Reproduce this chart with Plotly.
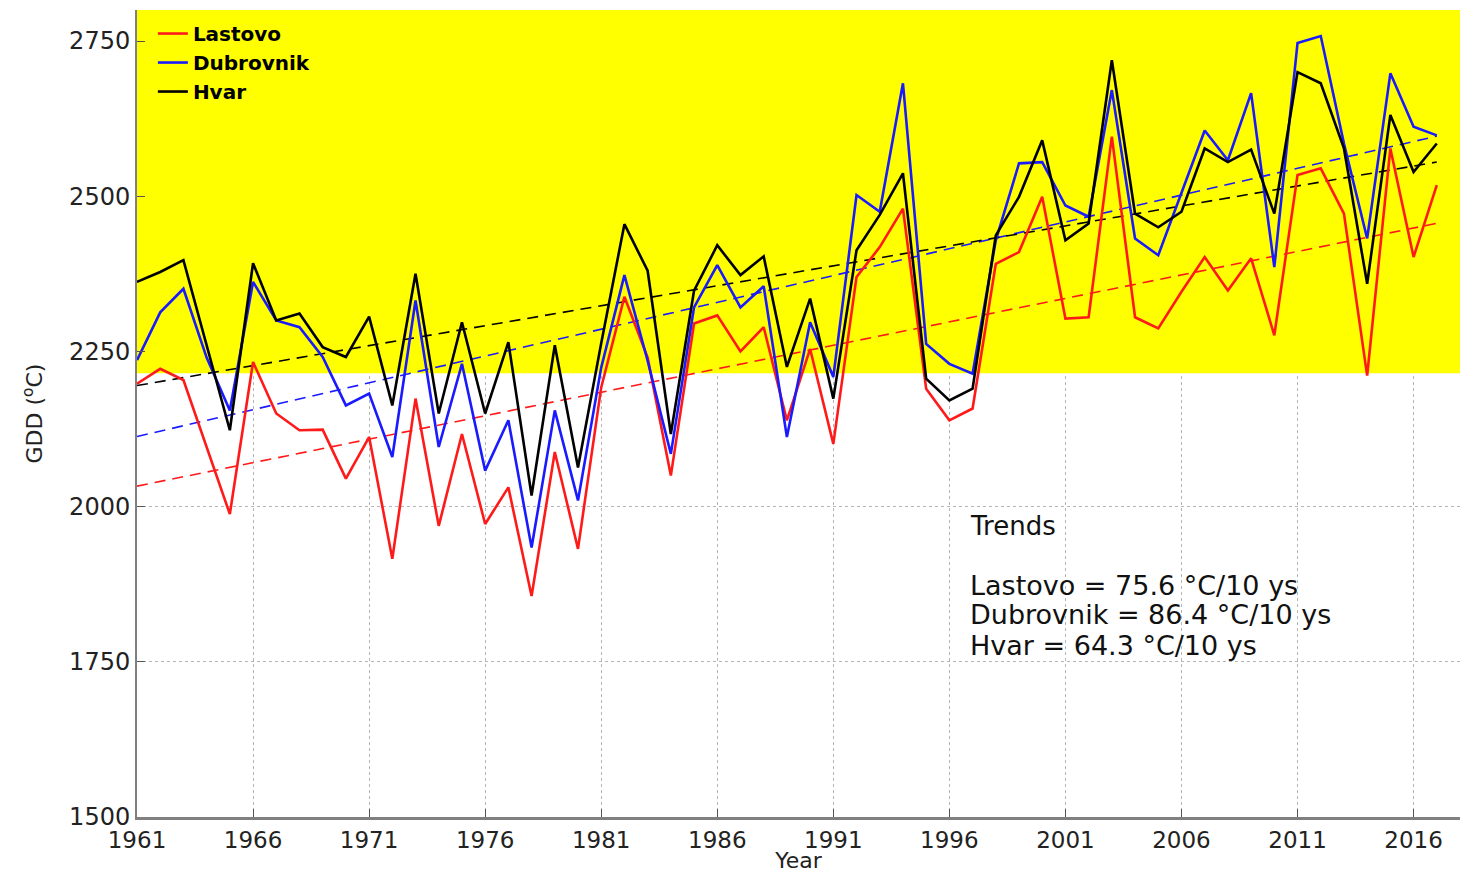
import plotly.graph_objects as go

years = list(range(1961, 2018))

lastovo = [2198, 2222, 2204, 2096, 1988, 2233, 2150, 2123, 2124, 2045,
           2112, 1916, 2174, 1969, 2117, 1972, 2031, 1856, 2088, 1932,
           2192, 2338, 2240, 2050, 2295, 2308, 2250, 2289, 2139, 2254,
           2101, 2370, 2418, 2480, 2190, 2139, 2158, 2391, 2410, 2499,
           2303, 2305, 2596, 2305, 2287, 2346, 2402, 2348, 2400, 2276,
           2534, 2545, 2472, 2211, 2577, 2402, 2518]

dubrovnik = [2236, 2313, 2351, 2240, 2155, 2362, 2300, 2289, 2241, 2163,
             2182, 2080, 2332, 2096, 2230, 2058, 2139, 1934, 2155, 2010,
             2224, 2373, 2235, 2085, 2321, 2389, 2321, 2355, 2112, 2297,
             2209, 2502, 2475, 2682, 2262, 2230, 2214, 2429, 2553, 2555,
             2485, 2467, 2671, 2432, 2405, 2504, 2606, 2558, 2666, 2386,
             2747, 2758, 2585, 2432, 2698, 2612, 2598]

hvar = [2362, 2378, 2397, 2258, 2123, 2392, 2300, 2311, 2257, 2241,
        2306, 2163, 2375, 2150, 2297, 2150, 2265, 2018, 2260, 2063,
        2263, 2455, 2380, 2117, 2348, 2421, 2373, 2403, 2225, 2335,
        2174, 2413, 2470, 2537, 2206, 2171, 2190, 2437, 2499, 2590,
        2429, 2456, 2719, 2472, 2450, 2475, 2577, 2555, 2575, 2472,
        2700, 2682, 2577, 2359, 2631, 2539, 2585]

station_names = ["Lastovo", "Dubrovnik", "Hvar"]
station_colors = ["#ff1a1a", "#1a1aff", "#000000"]
trend_slopes = [75.6, 86.4, 64.3]      # degC per 10 years
trend_start = [2033, 2113, 2195]       # trend value in 1961

x_ticks = list(range(1961, 2017, 5))
y_ticks = [1500, 1750, 2000, 2250, 2500, 2750]
threshold = 2215

series = [lastovo, dubrovnik, hvar]

FONT = "DejaVu Sans"
fig = go.Figure()

# trend lines (dashed)
for name, col, slope, start in zip(station_names, station_colors, trend_slopes, trend_start):
    ends = [years[0], years[-1]]
    vals = [start + slope / 10.0 * (e - years[0]) for e in ends]
    fig.add_trace(go.Scatter(x=ends, y=vals, mode="lines", showlegend=False,
                             line=dict(color=col, width=1.6, dash="11px,7px"),
                             hoverinfo="skip"))

for name, col, vals in zip(station_names, station_colors, series):
    fig.add_trace(go.Scatter(x=years, y=vals, mode="lines", name=name,
                             line=dict(color=col, width=2.6)))

fig.add_shape(type="rect", xref="x", yref="y", x0=1961, x1=2018,
              y0=threshold, y1=2800, fillcolor="#ffff00",
              line=dict(width=0), layer="between")

# trend text
fig.add_annotation(x=1996.8, y=1969, xref="x", yref="y", text="Trends",
                   showarrow=False, xanchor="left", yanchor="middle",
                   font=dict(family=FONT, size=26, color="#111111"))
text_y = [1873, 1826, 1777]
for name, slope, ty in zip(station_names, trend_slopes, text_y):
    fig.add_annotation(x=1996.8, y=ty, xref="x", yref="y",
                       text=f"{name} = {slope:.1f} °C/10 ys",
                       showarrow=False, xanchor="left", yanchor="middle",
                       font=dict(family=FONT, size=27, color="#111111"))

fig.update_layout(
    width=1460, height=873,
    margin=dict(l=137, r=0, t=10, b=56),
    paper_bgcolor="white", plot_bgcolor="white",
    font=dict(family=FONT, size=22, color="#222222"),
    showlegend=True,
    legend=dict(x=0.012, y=0.995, xanchor="left", yanchor="top",
                bgcolor="rgba(0,0,0,0)", tracegroupgap=0,
                font=dict(family=FONT, size=20, color="#000000", weight="bold")),
)

fig.update_xaxes(range=[1961, 2018], tickvals=x_ticks,
                 ticks="inside", ticklen=8, tickcolor="#555555",
                 showline=True, linecolor="#808080", linewidth=3,
                 showgrid=True, gridcolor="#b5b5b5", griddash="dot", gridwidth=1,
                 zeroline=False, tickfont=dict(size=23, color="#222222"),
                 title=dict(text="Year", standoff=0, font=dict(size=22, color="#222222")),
                 automargin=False)
fig.update_yaxes(range=[1500, 2800], tickvals=y_ticks,
                 ticks="inside", ticklen=8, tickcolor="#555555",
                 showline=True, linecolor="#808080", linewidth=2,
                 showgrid=True, gridcolor="#b5b5b5", griddash="dot", gridwidth=1,
                 zeroline=False, tickfont=dict(size=24, color="#222222"),
                 title=dict(text="GDD (<sup>o</sup>C)", standoff=20,
                            font=dict(size=22, color="#222222")),
                 automargin=False)

# remove the browser's default 8px body margin so the figure fills the window
fig.write_html("out.html",
               config={"displayModeBar": False},
               post_script="document.body.style.margin='0';"
                           "document.body.style.overflow='hidden';")
